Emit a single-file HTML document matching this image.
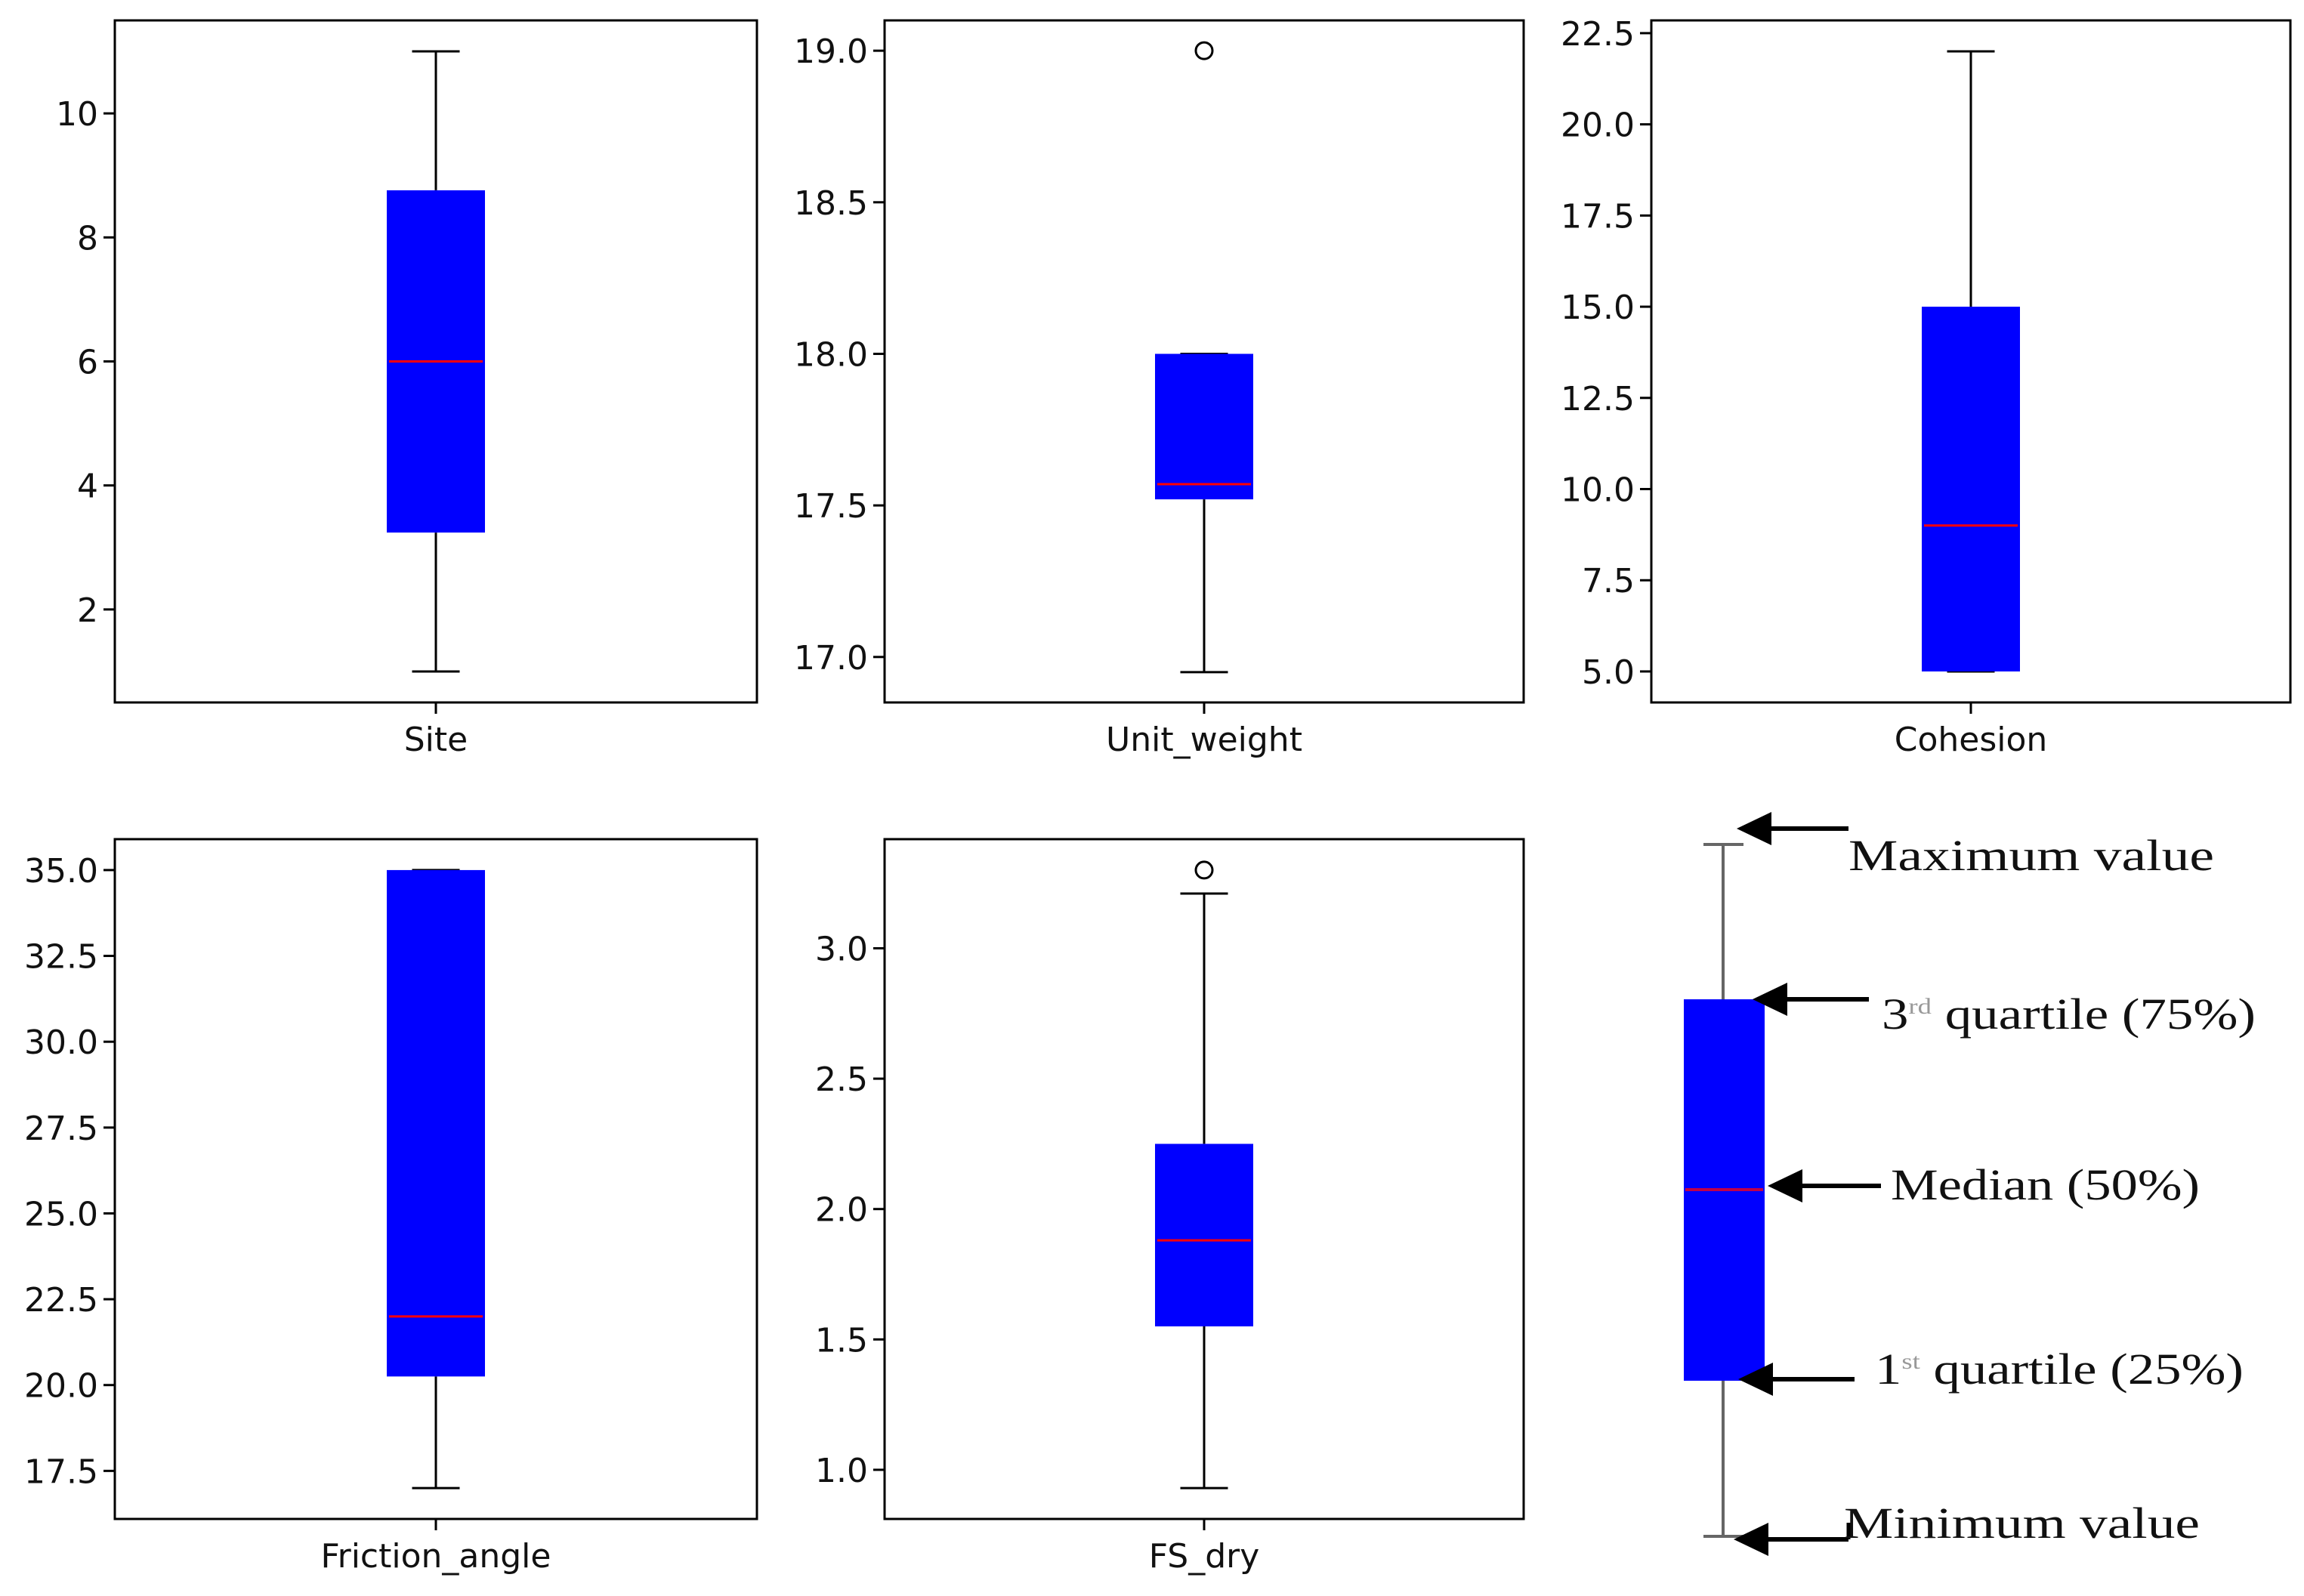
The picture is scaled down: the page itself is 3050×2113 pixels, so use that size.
<!DOCTYPE html>
<html><head><meta charset="utf-8"><style>
html,body{margin:0;padding:0;background:#fff;}
svg{display:block;}
</style></head><body>
<svg id="fig" width="3050" height="2113" viewBox="0 0 3050 2113" xmlns="http://www.w3.org/2000/svg"></svg>
<script>
const categories = ["Site","Unit_weight","Cohesion","Friction_angle","FS_dry"];
const whiskerLow = [1, 16.95, 5, 17, 0.93];
const q1Values = [3.24, 17.52, 5, 20.25, 1.55];
const medianValues = [6, 17.57, 9, 22, 1.88];
const q3Values = [8.76, 18.0, 15, 35, 2.25];
const whiskerHigh = [11, 18.0, 22, 35, 3.21];
const outlierValues = [[], [19.0], [], [], [3.30]];
const yMinValues = [0.5, 16.85, 4.15, 16.1, 0.8115];
const yMaxValues = [11.5, 19.10, 22.85, 35.9, 3.4185];
const tickLabels = [
  ["2","4","6","8","10"],
  ["17.0","17.5","18.0","18.5","19.0"],
  ["5.0","7.5","10.0","12.5","15.0","17.5","20.0","22.5"],
  ["17.5","20.0","22.5","25.0","27.5","30.0","32.5","35.0"],
  ["1.0","1.5","2.0","2.5","3.0"]
];

const NS="http://www.w3.org/2000/svg";
const svg=document.getElementById('fig');
function mk(tag,attrs,parent){const e=document.createElementNS(NS,tag);for(const k in attrs)e.setAttribute(k,attrs[k]);(parent||svg).appendChild(e);return e;}

const panels=[[152,27,1002,930],[1171,27,2017,930],[2186,27,3032,930],[152,1111,1002,2011],[1171,1111,2017,2011]];
const FONT='"DejaVu Sans","Liberation Sans",sans-serif';

categories.forEach((cat,i)=>{
  const [x0,y0,x1,y1]=panels[i];
  const g=mk('g',{});
  
  
  const ys=v=>y1-(v-yMinValues[i])/(yMaxValues[i]-yMinValues[i])*(y1-y0);
  const cx=(x0+x1)/2, bw=130, cw=63;
  // ticks
  tickLabels[i].forEach(t=>{
    const y=ys(parseFloat(t));
    const tk=mk('line',{x1:x0-15,x2:x0,y1:y,y2:y,stroke:'#000','stroke-width':3},g);
    
    
    const tl=mk('text',{x:x0-22,y:y+16,'text-anchor':'end','font-family':FONT,'font-size':44,fill:'#111'},g);
    
    
    tl.textContent=t;
  });
  // whiskers
  const wl=mk('line',{x1:cx,x2:cx,y1:ys(whiskerLow[i]),y2:ys(q1Values[i]),stroke:'#000','stroke-width':3},g);
  
  
  const wh=mk('line',{x1:cx,x2:cx,y1:ys(whiskerHigh[i]),y2:ys(q3Values[i]),stroke:'#000','stroke-width':3},g);
  
  
  const cl=mk('line',{x1:cx-cw/2,x2:cx+cw/2,y1:ys(whiskerLow[i]),y2:ys(whiskerLow[i]),stroke:'#000','stroke-width':3},g);
  
  
  const ch=mk('line',{x1:cx-cw/2,x2:cx+cw/2,y1:ys(whiskerHigh[i]),y2:ys(whiskerHigh[i]),stroke:'#000','stroke-width':3},g);
  
  
  // box
  const bt=ys(q3Values[i]), bb=ys(q1Values[i]);
  const box=mk('rect',{x:cx-bw/2,y:bt,width:bw,height:Math.max(bb-bt,2),fill:'#0000ff'},g);
  
  
  const md=mk('line',{x1:cx-bw/2+3,x2:cx+bw/2-3,y1:ys(medianValues[i]),y2:ys(medianValues[i]),stroke:'#ff0000','stroke-width':3},g);
  
  
  outlierValues[i].forEach(v=>{
    const o=mk('circle',{cx:cx,cy:ys(v),r:11,fill:'none',stroke:'#000','stroke-width':3},g);
    
    
  });
  // frame
  const fr=mk('rect',{x:x0,y:y0,width:x1-x0,height:y1-y0,fill:'none',stroke:'#000','stroke-width':3},g);
  
  
  const xt=mk('line',{x1:cx,x2:cx,y1:y1,y2:y1+15,stroke:'#000','stroke-width':3},g);
  
  
  const xl=mk('text',{x:cx,y:y1+64,'text-anchor':'middle','font-family':FONT,'font-size':44,fill:'#111'},g);
  
  
  xl.textContent=cat;
});

// legend diagram
const lg=mk('g',{});


mk('line',{x1:2281,x2:2281,y1:1118,y2:2034,stroke:'#666','stroke-width':4},lg);
mk('line',{x1:2255,x2:2308,y1:1118,y2:1118,stroke:'#666','stroke-width':4},lg);
mk('line',{x1:2255,x2:2308,y1:2034,y2:2034,stroke:'#666','stroke-width':4},lg);
mk('rect',{x:2229,y:1323,width:107,height:505,fill:'#0000ff'},lg);
mk('line',{x1:2231,x2:2334,y1:1575,y2:1575,stroke:'#c0004a','stroke-width':4},lg);
const arrows=[[2299,1097,2447],[2320,1323,2474],[2340,1570,2490],[2301,1826,2455],[2295,2038,2447]];
arrows.forEach(a=>{
  const [tx,ty,ex]=a;
  mk('line',{x1:tx+30,x2:ex,y1:ty,y2:ty,stroke:'#000','stroke-width':6},lg);
  mk('polygon',{points:`${tx},${ty} ${tx+46},${ty-22} ${tx+46},${ty+22}`,fill:'#000'},lg);
});
mk('line',{x1:2447,x2:2447,y1:2038,y2:2016,stroke:'#000','stroke-width':5},lg);
const SERIF='"Liberation Serif","DejaVu Serif",serif';
const labels=[["Maximum value",2447,1152,484],["Median (50%)",2503,1588,409],["Minimum value",2441,2036,471]];
labels.forEach(l=>{
  const t=mk('text',{x:l[1],y:l[2],'font-family':SERIF,'font-size':58,fill:'#111',textLength:l[3],lengthAdjust:'spacingAndGlyphs'},lg);
  t.textContent=l[0];
});
function supLabel(x,y,num,sup,rest,len){
  const t=mk('text',{x:x,y:y,'font-family':SERIF,'font-size':58,fill:'#111'},lg);
  const a=mk('tspan',{},t);a.textContent=num;
  const b=mk('tspan',{dy:-20,'font-size':30,fill:'#999'},t);b.textContent=sup;
  const c=mk('tspan',{dy:20},t);c.textContent=' '+rest;
  t.setAttribute('textLength',len);t.setAttribute('lengthAdjust','spacingAndGlyphs');
}
supLabel(2491,1362,'3','rd','quartile (75%)',495);
supLabel(2482,1832,'1','st','quartile (25%)',488);
</script>
</body></html>
